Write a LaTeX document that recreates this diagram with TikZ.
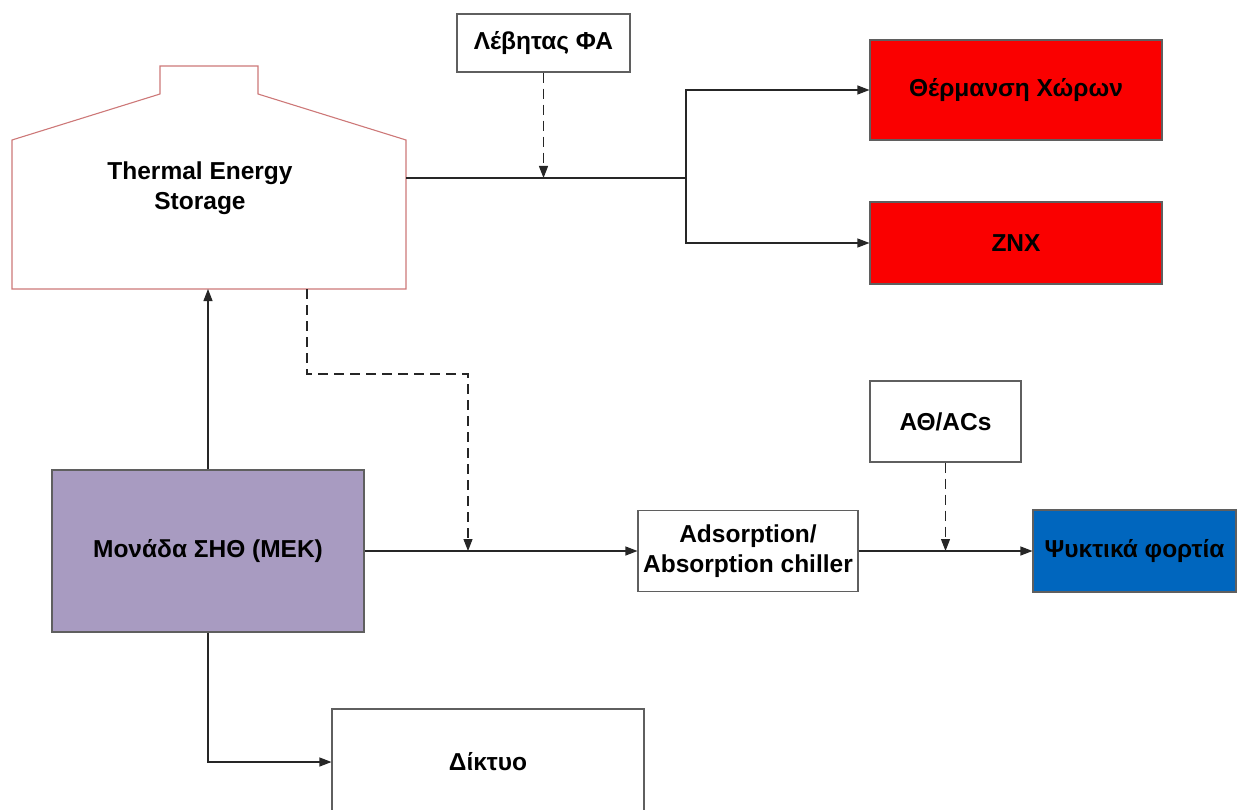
\documentclass[tikz,border=0pt]{standalone}
\usepackage{fontspec}
\setmainfont{Liberation Sans}
\usetikzlibrary{arrows.meta}
\definecolor{heatred}{RGB}{250,0,0}
\definecolor{coolblue}{RGB}{0,102,190}
\definecolor{chpviolet}{RGB}{168,155,193}
\definecolor{tesline}{RGB}{205,120,120}
\definecolor{edge}{RGB}{95,95,95}
\begin{document}
\begin{tikzpicture}[x=1pt,y=-1pt,
  lbl/.style={font=\fontsize{24.5}{30}\selectfont\bfseries, align=center},
  box/.style={lbl, draw=edge, line width=1.1pt, inner sep=0pt},
  flow/.style={draw=black!85, line width=1.1pt, -{Triangle[length=12pt,width=9pt]}},
  aux/.style={flow, dash pattern=on 10pt off 6pt},
  plain/.style={draw=black!85, line width=1.1pt}]
\useasboundingbox (0,0) rectangle (1238,810);

% storage tank outline
\draw[tesline, line width=1.1pt] (12,289) -- (12,140) -- (160,94) -- (160,66) -- (258,66)
  -- (258,94) -- (406,140) -- (406,289) -- cycle;
\node[lbl] (tes) at (200,188) {Thermal Energy\\Storage};
\coordinate (tesE) at (406,178);
\coordinate (tesS1) at (208,289);
\coordinate (tesS2) at (307,289);

% boxes
\node[box, minimum width=173pt, minimum height=58pt] (boiler) at (543.5,43) {Λέβητας ΦΑ};
\node[box, fill=heatred, minimum width=292pt, minimum height=100pt] (heat) at (1016,90) {Θέρμανση Χώρων};
\node[box, fill=heatred, minimum width=292pt, minimum height=82pt] (dhw) at (1016,243) {ΖΝΧ};
\node[box, fill=chpviolet, minimum width=312pt, minimum height=162pt] (chp) at (208,551) {Μονάδα ΣΗΘ (ΜΕΚ)};
\node[box, minimum width=220pt, minimum height=81pt] (chiller) at (748,551) {Adsorption/\\Absorption chiller};
\node[box, minimum width=151pt, minimum height=81pt] (ac) at (945.5,421.5) {ΑΘ/ACs};
\node[box, fill=coolblue, minimum width=203pt, minimum height=82pt] (cool) at (1134.5,551) {Ψυκτικά φορτία};
\node[box, minimum width=312pt, minimum height=106pt] (grid) at (488,762) {Δίκτυο};

% heat distribution
\coordinate (split) at (686,178);
\draw[plain] (tesE) -- (split);
\draw[flow] (split) |- (heat.west);
\draw[flow] (split) |- (dhw.west);
\draw[aux] (boiler.south) -- (boiler.south |- tesE);

% CHP unit connections
\draw[flow] (chp.north) -- (tesS1);
\draw[flow] (chp.east) -- (chiller.west);
\draw[flow] (chp.south) |- (grid.west);
\coordinate (tap) at (468,551);
\draw[aux] (tesS2) -- (307,374) -| (tap);

% cooling
\draw[flow] (chiller.east) -- (cool.west);
\draw[aux] (ac.south) -- (ac.south |- chiller.east);
\end{tikzpicture}
\end{document}
